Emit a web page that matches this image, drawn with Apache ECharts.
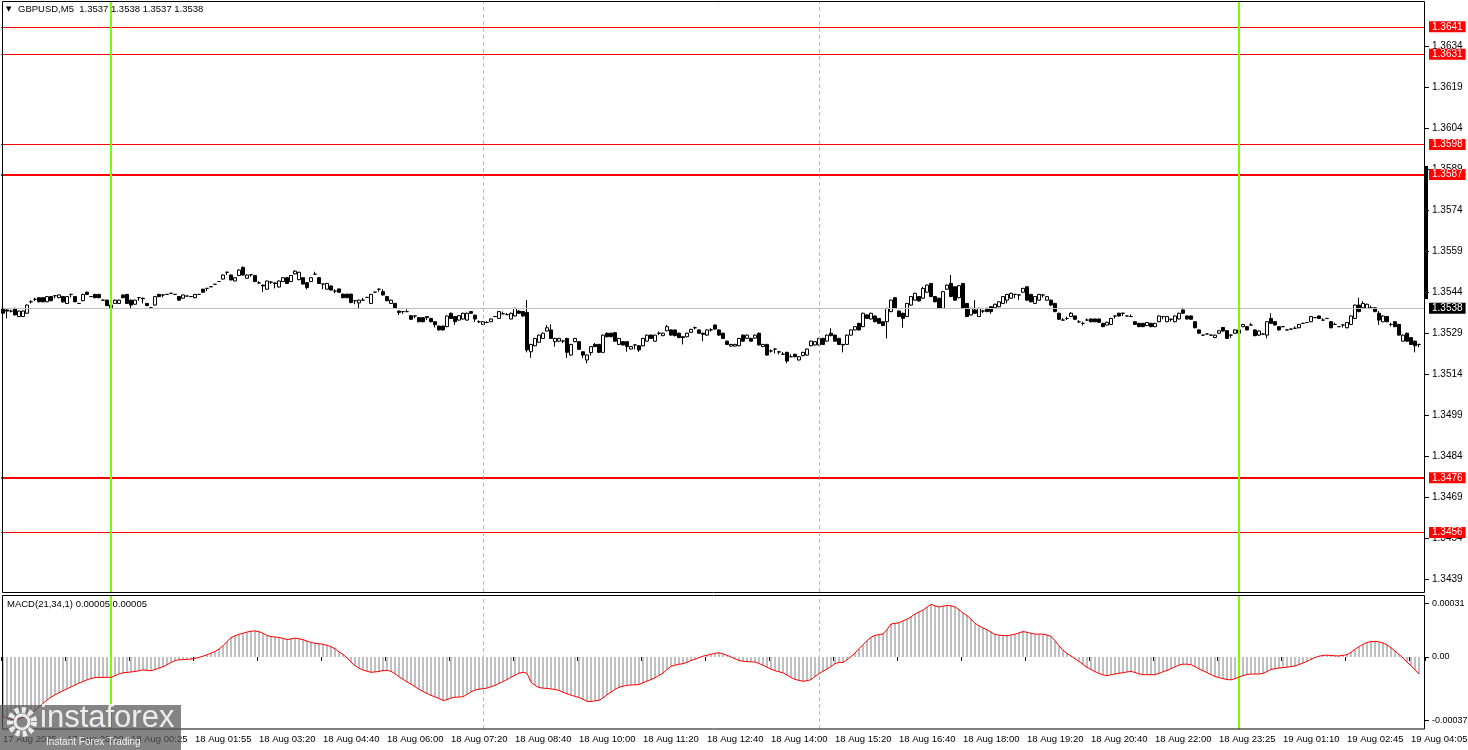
<!DOCTYPE html>
<html>
<head>
<meta charset="utf-8">
<title>GBPUSD,M5</title>
<script src="https://cdn.jsdelivr.net/npm/echarts@6/dist/echarts.min.js"></script>
<style>
  html, body { margin: 0; padding: 0; background: #fff; }
  #chart { width: 1468px; height: 750px; }
</style>
</head>
<body>
<div id="chart"></div>
<script>
const BASE = 1.35;

// 5-minute bars, [open, close, low, high] in pips above 1.3500
const bars = [
  [38.0,36.2,36.0,38.2],[37.4,37.0,34.3,37.6],[37.0,37.0,36.5,37.5],[38.0,35.6,35.4,38.2],[35.0,37.0,34.8,37.2],
  [35.0,37.0,34.8,37.2],[36.2,39.2,36.0,39.4],[40.4,40.4,39.8,41.0],[41.3,41.3,40.6,41.9],[41.9,40.4,40.2,42.1],
  [41.9,40.4,40.2,42.1],[40.4,42.3,40.2,42.5],[42.3,40.8,40.6,42.5],[42.6,42.6,41.6,42.8],[41.9,42.9,41.7,43.1],
  [42.3,40.4,40.0,42.5],[39.8,42.3,39.6,42.5],[43.1,43.1,42.0,43.3],[42.3,40.4,40.2,42.5],[39.8,39.8,39.7,39.9],
  [40.8,43.1,40.6,43.3],[43.9,43.1,42.9,44.1],[42.3,42.3,42.2,42.4],[43.1,41.9,41.7,43.3],[43.1,41.9,41.7,43.3],
  [41.0,41.0,40.9,41.1],[41.0,39.0,38.8,41.2],[38.0,39.2,36.8,39.4],[39.8,41.0,39.6,41.2],[39.8,41.0,39.6,41.2],
  [42.9,41.9,41.7,43.1],[43.1,39.8,39.6,43.3],[41.0,39.2,38.0,41.2],[39.5,41.0,39.3,41.2],[41.9,41.9,40.8,42.1],
  [41.7,41.5,39.8,41.9],[39.8,39.0,38.8,40.0],[38.2,38.2,38.1,38.3],[39.2,42.3,39.0,42.5],[43.1,42.3,42.1,43.3],
  [42.9,42.9,42.0,43.1],[43.1,43.1,43.0,43.2],[43.5,43.5,43.4,43.6],[43.1,43.1,43.0,43.2],[42.3,41.0,40.8,42.5],
  [41.7,42.9,41.5,43.1],[42.5,42.5,42.4,42.6],[42.3,42.3,42.2,42.4],[41.9,43.1,41.7,43.3],[43.1,43.1,43.0,43.2],
  [45.0,43.9,43.7,45.2],[45.3,45.3,44.3,45.5],[45.9,45.9,45.8,46.0],[46.8,46.8,46.7,46.9],[47.8,47.8,47.7,47.9],
  [48.7,50.2,48.5,50.4],[51.2,51.2,50.2,51.4],[50.2,48.4,48.2,50.4],[48.0,49.2,47.9,49.3],[50.0,52.0,49.8,52.3],
  [53.0,50.2,50.0,53.3],[49.0,50.2,48.9,50.4],[50.3,50.3,49.6,50.5],[50.0,47.8,47.6,50.2],[47.3,47.3,47.2,47.9],
  [46.5,46.2,43.9,46.6],[45.0,48.0,44.8,48.1],[47.6,47.6,46.9,47.9],[47.3,47.1,45.3,47.6],[45.8,48.0,45.6,48.2],
  [47.8,49.2,47.6,49.4],[49.2,47.1,46.9,49.4],[47.8,50.0,47.6,50.2],[50.6,51.6,50.4,52.0],[48.5,51.2,48.3,51.4],
  [49.2,46.9,46.7,49.4],[47.4,45.6,44.9,47.6],[47.8,49.2,47.6,49.4],[50.5,50.5,50.4,51.4],[49.2,47.1,46.9,49.4],
  [46.9,46.9,45.0,47.1],[45.0,47.1,44.9,47.3],[46.2,44.7,44.5,46.4],[44.3,44.3,43.5,45.0],[45.1,43.9,43.7,45.2],
  [43.2,41.9,41.7,43.4],[43.2,41.9,41.7,43.3],[43.2,40.1,39.9,43.4],[40.8,40.8,39.5,41.0],[40.0,41.0,38.0,41.2],
  [41.0,41.0,40.9,41.8],[42.0,42.0,41.9,42.1],[39.8,43.1,39.6,43.3],[43.9,43.9,43.8,44.0],[45.0,45.0,44.1,45.2],
  [44.1,42.9,42.7,45.0],[42.3,40.8,40.6,42.5],[39.8,41.0,39.6,41.2],[39.8,38.0,37.8,40.0],[37.0,36.5,35.6,37.2],
  [36.8,36.8,36.0,37.0],[36.8,36.8,36.6,37.6],[35.3,34.0,33.8,35.5],[35.2,35.2,34.4,35.4],[34.6,33.1,32.9,34.8],
  [34.6,33.1,32.9,34.8],[34.6,35.0,33.7,35.2],[34.3,33.1,32.9,34.5],[33.1,32.0,31.0,33.3],[31.5,30.1,29.9,31.7],
  [31.5,30.1,29.9,31.7],[31.3,35.2,31.1,35.4],[36.2,34.3,34.1,36.4],[35.0,33.1,32.0,35.2],[33.7,35.3,33.5,35.5],
  [34.1,36.2,33.9,36.4],[33.7,36.2,33.5,36.4],[36.8,36.2,36.0,37.0],[35.5,34.1,33.0,35.7],[33.1,33.1,32.6,33.6],
  [32.1,33.1,32.0,33.3],[32.8,32.8,32.7,33.3],[33.1,34.1,33.0,34.3],[35.0,35.0,34.9,35.1],[34.3,36.8,34.1,37.0],
  [36.0,36.0,35.9,36.8],[35.7,35.7,35.6,36.3],[34.1,36.2,34.0,36.4],[35.2,38.0,35.0,38.2],[37.0,36.2,36.0,37.3],
  [36.8,35.2,35.0,37.0],[36.5,22.8,21.9,41.0],[22.1,24.8,19.9,25.0],[24.3,27.0,24.1,27.2],[25.6,28.2,25.4,28.4],
  [27.0,28.9,26.8,29.1],[29.7,30.9,29.5,31.9],[30.1,27.0,26.8,32.1],[25.8,27.0,24.0,27.2],[26.0,27.0,25.8,27.2],
  [26.0,26.0,25.3,26.5],[27.0,21.9,19.9,27.2],[20.9,24.8,20.7,25.0],[25.8,27.0,25.6,27.2],[25.8,23.0,22.8,26.0],
  [22.1,20.9,19.9,22.3],[19.1,20.9,17.9,21.1],[21.8,24.0,20.7,24.2],[24.8,24.0,23.8,25.3],[24.8,21.9,21.7,25.0],
  [21.9,28.2,21.7,28.4],[28.9,27.6,27.4,29.1],[28.9,27.6,27.4,29.1],[29.1,26.0,25.8,29.3],[24.8,27.0,24.6,27.2],
  [25.8,24.6,24.4,26.0],[25.8,24.0,22.1,26.0],[23.1,24.0,23.0,24.2],[24.6,24.6,23.0,24.7],[24.3,22.8,22.1,24.5],
  [24.3,27.0,24.1,27.2],[26.0,28.2,25.8,28.4],[28.2,27.0,26.8,28.4],[26.0,28.2,25.8,28.4],[28.9,28.9,28.2,29.5],
  [28.0,28.9,27.8,29.1],[29.8,31.3,29.6,31.9],[30.1,28.2,28.0,30.3],[30.1,28.0,27.8,30.3],[28.9,27.3,27.1,29.1],
  [27.6,27.3,24.8,27.8],[27.6,28.9,27.4,29.1],[29.2,30.3,29.0,30.5],[30.9,30.9,30.3,31.3],[30.1,28.9,28.7,30.3],
  [28.9,28.5,26.0,29.1],[28.2,30.1,28.0,30.3],[30.1,30.1,29.5,30.7],[31.9,30.4,30.2,32.1],[30.1,28.2,28.0,30.3],
  [28.9,27.0,26.8,29.1],[26.0,24.8,24.6,26.2],[24.2,24.8,24.0,25.0],[24.2,24.8,24.0,25.0],[24.3,27.0,24.1,27.2],
  [28.2,26.0,25.8,28.5],[27.0,28.2,26.8,28.4],[27.0,26.0,25.8,27.2],[27.1,28.2,26.9,28.4],[28.9,24.6,24.4,29.1],
  [24.0,24.8,23.8,25.0],[24.8,20.9,20.7,25.0],[22.4,22.4,21.8,23.0],[23.1,23.1,21.5,23.3],[22.1,22.0,21.2,22.3],
  [21.2,21.2,21.0,22.0],[21.9,18.7,17.9,22.1],[20.3,20.3,20.1,21.2],[21.2,20.3,20.1,21.4],[19.1,20.3,18.9,20.5],
  [20.7,21.9,20.5,22.1],[20.9,23.1,20.7,23.3],[24.3,26.0,24.1,26.2],[24.6,25.8,24.4,26.0],[24.6,27.0,24.4,27.2],
  [27.0,24.8,24.6,27.2],[26.0,28.2,25.8,28.4],[28.9,28.0,27.8,30.7],[28.2,26.0,25.8,28.4],[27.0,24.8,24.6,27.2],
  [24.8,24.6,21.9,25.0],[24.8,28.2,24.6,28.4],[28.2,30.1,28.0,30.3],[30.1,31.3,29.9,31.5],[32.5,30.1,29.9,32.7],
  [31.3,36.2,31.1,36.4],[35.6,34.3,34.1,35.8],[34.1,36.2,33.9,36.4],[35.2,33.1,32.9,35.4],[34.3,32.5,32.3,34.5],
  [33.1,31.7,31.5,33.3],[33.1,38.0,27.0,38.2],[36.8,41.0,36.6,41.2],[41.9,38.0,37.8,42.1],[37.0,35.0,34.8,37.2],
  [36.2,34.3,30.9,36.4],[35.0,39.8,34.8,40.0],[39.2,42.3,39.0,42.5],[41.0,43.5,40.8,43.7],[42.3,40.7,40.5,42.5],
  [41.7,45.3,41.5,45.9],[43.9,46.5,43.7,46.7],[47.1,42.3,42.1,47.3],[42.3,40.4,40.2,42.5],[41.7,38.0,37.8,41.9],
  [38.0,44.1,37.8,44.3],[45.0,46.5,44.8,46.7],[47.1,42.3,42.1,50.2],[45.9,41.0,40.8,46.1],[41.9,46.3,41.7,46.5],
  [47.1,38.0,37.8,47.3],[39.8,35.0,34.8,40.0],[35.6,38.0,35.4,38.2],[37.4,36.2,36.0,41.0],[35.0,38.0,34.8,38.2],
  [37.0,37.0,36.3,37.5],[38.0,36.8,36.6,38.2],[38.6,36.8,36.0,38.8],[38.2,39.5,38.0,39.7],[38.6,40.4,38.4,40.6],
  [39.8,42.3,39.6,42.5],[41.0,43.1,39.8,43.3],[41.7,43.5,41.5,43.7],[43.1,43.1,41.7,43.3],[42.9,42.9,41.0,43.1],
  [43.9,45.3,43.7,45.5],[45.9,41.0,40.8,46.1],[43.1,40.4,40.2,43.3],[39.8,42.3,39.6,42.5],[41.0,43.1,40.8,43.3],
  [42.9,42.9,41.9,43.1],[41.0,42.3,40.8,42.5],[41.0,39.2,39.0,41.2],[39.8,36.8,36.6,40.0],[36.2,34.0,33.8,36.4],
  [33.7,33.7,33.5,34.4],[34.3,34.3,33.7,35.0],[35.0,36.2,34.8,36.6],[35.2,34.0,33.8,35.4],[33.1,33.1,32.6,33.7],
  [32.5,32.5,31.7,33.1],[33.7,33.7,33.5,34.3],[34.1,33.1,32.9,34.3],[34.1,33.1,32.9,34.3],[34.1,32.9,32.7,34.3],
  [32.5,31.3,31.1,32.7],[31.9,32.9,31.7,33.1],[32.1,34.3,31.9,34.5],[35.2,35.2,34.3,35.4],[36.2,35.2,35.0,36.4],
  [36.2,36.2,35.2,36.4],[35.2,35.2,35.1,35.3],[35.0,35.0,34.8,35.8],[33.1,32.1,31.9,33.3],[32.5,31.3,31.1,32.7],
  [32.5,31.3,31.1,32.7],[31.7,32.8,31.5,33.0],[32.5,31.3,31.1,32.7],[31.3,32.5,31.1,32.7],[33.1,35.2,32.9,35.4],
  [35.0,35.0,34.0,35.2],[33.1,35.0,32.9,35.2],[34.0,34.0,33.1,34.2],[33.1,35.2,32.9,35.4],[34.1,36.2,33.9,36.4],
  [37.4,36.2,36.0,38.2],[35.2,34.1,33.9,35.4],[35.2,34.0,33.8,35.4],[33.1,30.9,30.7,33.3],[30.1,28.9,28.7,30.3],
  [28.2,28.2,28.1,28.3],[28.6,28.6,28.5,28.7],[28.2,28.2,28.1,28.4],[27.3,28.2,27.1,28.4],[28.9,29.8,28.7,30.0],
  [31.0,29.7,29.5,31.2],[29.8,27.0,26.8,30.0],[28.2,28.2,27.2,28.4],[28.9,30.1,28.7,30.3],[28.9,30.1,28.7,30.3],
  [31.3,32.1,31.1,32.3],[31.3,30.1,29.9,31.5],[31.9,31.9,31.7,32.6],[30.1,28.0,27.8,30.3],[28.2,29.7,28.0,29.9],
  [28.6,28.6,28.5,28.8],[28.2,33.1,27.0,33.3],[34.3,32.5,32.3,36.2],[33.1,31.9,31.7,33.3],[31.3,30.1,29.9,31.5],
  [31.3,31.3,31.1,31.5],[30.1,30.1,30.0,30.3],[30.4,30.4,30.3,30.6],[30.7,30.7,30.5,31.4],[30.9,32.1,30.7,32.3],
  [32.5,32.5,32.4,32.7],[32.8,32.8,32.7,33.0],[33.1,35.0,32.9,35.2],[34.6,34.6,34.5,34.8],[35.2,34.3,34.1,35.4],
  [33.7,33.7,33.5,34.4],[34.3,34.3,34.2,34.5],[33.1,30.9,30.7,33.3],[32.1,32.1,31.9,32.8],[31.3,31.3,31.2,31.5],
  [31.9,31.9,31.0,32.1],[30.9,32.8,30.7,33.0],[32.1,35.2,31.9,35.4],[34.3,39.2,34.1,39.4],[39.2,36.8,36.6,41.9],
  [38.2,39.8,38.0,40.6],[38.0,39.5,37.8,39.7],[38.2,38.2,38.0,39.0],[38.2,36.8,36.6,38.4],[36.2,33.7,31.9,37.0],
  [33.1,35.2,32.9,35.4],[35.0,33.1,32.9,35.2],[32.1,32.1,31.4,32.8],[33.1,31.3,31.1,33.3],[32.1,28.2,28.0,32.3],
  [26.0,28.2,25.8,28.4],[28.9,26.0,25.8,29.1],[27.3,24.8,24.6,27.5],[26.0,24.3,21.9,26.2],[24.8,24.8,23.8,25.0]
];

// MACD(21,34,1) per bar, in units of 0.00001 (signal = main, period 1)
const macd = [
  -34.6,-35.5,-36.3,-36.5,-36.0,-35.2,-34.0,-32.7,-31.2,-29.0,-27.0,-25.0,-23.4,-22.0,-20.8,-19.6,-18.5,-17.4,-16.3,-15.2,
  -14.3,-13.3,-12.5,-12.0,-11.8,-11.9,-11.8,-11.8,-10.9,-9.8,-9.2,-9.0,-8.7,-8.4,-8.0,-7.5,-7.8,-8.0,-7.3,-6.5,
  -5.7,-4.5,-3.2,-2.1,-1.6,-1.5,-1.4,-1.2,-0.8,-0.3,0.5,1.3,2.2,3.2,4.6,6.5,9.0,11.2,12.4,13.2,
  13.8,14.5,15.0,15.2,14.7,13.8,12.5,11.9,11.6,11.4,10.8,10.2,10.5,11.0,10.6,10.1,9.3,8.4,8.0,7.7,
  7.4,6.8,6.0,4.8,3.0,1.5,-0.5,-3.0,-5.0,-6.5,-7.6,-8.3,-8.9,-8.7,-8.4,-7.8,-7.8,-8.3,-9.8,-11.5,
  -13.0,-14.5,-15.8,-17.3,-18.8,-20.0,-21.2,-22.3,-23.2,-24.2,-25.3,-24.8,-23.9,-23.4,-23.3,-23.1,-21.8,-20.3,-19.2,-18.8,
  -18.4,-18.1,-17.3,-16.5,-15.4,-14.3,-13.1,-11.8,-10.6,-9.4,-8.9,-9.5,-14.6,-16.5,-17.8,-18.1,-18.3,-18.6,-18.9,-19.5,
  -20.5,-21.4,-22.2,-22.9,-23.5,-24.6,-25.8,-25.9,-25.5,-25.2,-23.8,-22.0,-20.5,-18.9,-17.6,-17.0,-16.5,-16.3,-16.2,-16.0,
  -15.0,-14.0,-13.1,-12.1,-10.7,-9.4,-7.3,-5.4,-4.8,-4.2,-3.9,-3.1,-2.0,-1.3,-0.4,0.5,1.0,1.6,2.1,2.5,
  1.8,1.0,0.0,-1.0,-2.0,-2.5,-2.7,-2.8,-2.9,-3.8,-4.8,-5.9,-7.1,-8.0,-8.6,-9.2,-10.5,-12.0,-13.0,-13.6,
  -14.1,-13.8,-13.2,-11.3,-9.7,-8.3,-7.0,-5.5,-3.8,-3.2,-3.2,-1.6,0.2,2.3,4.8,7.2,9.5,11.5,12.6,13.0,
  13.4,16.0,19.2,19.6,19.9,21.0,22.0,23.3,25.0,26.2,27.3,29.0,30.6,29.8,29.1,29.6,30.0,29.8,29.2,27.5,
  25.6,24.1,22.0,19.6,18.2,16.9,15.8,14.5,13.1,12.7,12.5,12.4,12.8,13.3,14.0,14.8,14.4,13.8,13.3,13.3,
  13.3,12.8,12.0,9.5,6.5,4.0,2.0,0.6,-1.0,-2.6,-4.3,-6.0,-7.3,-8.5,-9.6,-10.4,-10.8,-10.4,-9.9,-9.5,
  -9.1,-8.7,-8.4,-9.0,-9.8,-10.3,-10.3,-10.3,-10.3,-9.5,-8.6,-7.8,-6.8,-5.7,-4.7,-4.2,-4.2,-4.5,-5.6,-7.0,
  -8.0,-9.1,-10.3,-11.3,-12.0,-12.6,-13.1,-13.3,-12.6,-11.7,-10.8,-10.2,-9.9,-9.9,-9.9,-9.5,-8.5,-7.2,-6.8,-6.4,
  -6.2,-5.9,-5.6,-5.2,-4.4,-3.5,-2.5,-1.4,-0.3,0.5,0.9,1.1,0.9,0.7,0.6,1.0,1.4,2.7,4.5,6.0,
  7.4,8.5,8.9,9.1,8.8,8.2,7.0,5.4,3.5,1.5,-0.6,-3.0,-5.1,-7.5,-9.9
];

// time labels, one every 16 bars
const tickLabels = [
  '17 Aug 2025', '17 Aug 23:00', '18 Aug 00:25', '18 Aug 01:55', '18 Aug 03:20', '18 Aug 04:40',
  '18 Aug 06:00', '18 Aug 07:20', '18 Aug 08:40', '18 Aug 10:00', '18 Aug 11:20', '18 Aug 12:40',
  '18 Aug 14:00', '18 Aug 15:20', '18 Aug 16:40', '18 Aug 18:00', '18 Aug 19:20', '18 Aug 20:40',
  '18 Aug 22:00', '18 Aug 23:25', '19 Aug 01:10', '19 Aug 02:45', '19 Aug 04:05'
];
const priceTicks = [1.3439, 1.3454, 1.3469, 1.3484, 1.3499, 1.3514, 1.3529, 1.3544,
  1.3559, 1.3574, 1.3589, 1.3604, 1.3619, 1.3634];
const macdTicks = [0.00031, 0, -0.00037];

const levels = [1.3641, 1.3631, 1.3598, 1.3587, 1.3476, 1.3456];
const boldLevels = [1.3587, 1.3476];
const lastPrice = 1.3538;
const dayStarts = [27, 309];      // bar index of 00:00
const sessionMarks = [120, 204];  // 08:00 and 15:00

// one empty slot after the last bar, like the terminal's right margin
const slotCount = bars.length + 1;
const categories = Array.from({ length: slotCount },
  (v, i) => i % 16 === 0 ? tickLabels[i / 16] : 'bar ' + i);
const candles = bars.map(b => b.map(p => +(BASE + p / 10000).toFixed(5)));
const closes = candles.map(c => c[1]);
const hist = macd.map(v => v / 100000);

const FONT = '"Liberation Sans", Arial, sans-serif';
const LIME = '#7cfc00';

function vLines() {
  const out = [];
  dayStarts.forEach(i => out.push({
    xAxis: i, lineStyle: { color: LIME, width: 2, type: 'solid' }, label: { show: false }
  }));
  sessionMarks.forEach(i => out.push({
    xAxis: i, lineStyle: { color: LIME, width: 1, type: [4, 3] }, label: { show: false }
  }));
  return out;
}

function priceLabel(text, bg) {
  return {
    show: true, position: 'end', distance: 4, formatter: text,
    backgroundColor: bg, color: '#fff', padding: [1, 3, 0, 3],
    fontSize: 10, fontFamily: FONT
  };
}

function levelLines() {
  const out = levels.map(v => ({
    yAxis: v,
    lineStyle: { color: '#ff0000', width: boldLevels.includes(v) ? 2 : 1, type: 'solid' },
    label: priceLabel(v.toFixed(4), '#ff0000')
  }));
  out.push({
    yAxis: lastPrice,
    lineStyle: { color: '#c0c0c0', width: 1, type: 'solid' },
    label: priceLabel(lastPrice.toFixed(4), '#000')
  });
  return out;
}

const myChart = echarts.init(document.getElementById('chart'));

const options = {
  animation: false,
  backgroundColor: '#fff',
  textStyle: { fontFamily: FONT },
  grid: [
    { left: 1, top: 2, width: 1424, height: 590, containLabel: false, outerBoundsMode: 'none' },
    { left: 1, top: 596, width: 1424, height: 133, containLabel: false, outerBoundsMode: 'none' }
  ],
  xAxis: [
    {
      type: 'category', gridIndex: 0, data: categories, boundaryGap: true,
      axisLine: { show: false }, axisTick: { show: false }, axisLabel: { show: false },
      splitLine: { show: false }
    },
    {
      type: 'category', gridIndex: 1, data: categories, boundaryGap: true,
      axisLine: { show: false },
      axisTick: { show: true, interval: 15, length: 4, lineStyle: { color: '#000' } },
      axisLabel: {
        interval: 15, align: 'left', margin: 5, fontSize: 9.5, color: '#000', fontFamily: FONT
      },
      splitLine: { show: false }
    }
  ],
  yAxis: [
    {
      type: 'value', gridIndex: 0, position: 'right', min: 1.34342, max: 1.36501,
      axisLine: { show: false },
      axisTick: { show: true, length: 4, customValues: priceTicks, lineStyle: { color: '#000' } },
      axisLabel: {
        customValues: priceTicks, margin: 7, fontSize: 10, color: '#000', fontFamily: FONT,
        formatter: v => v.toFixed(4)
      },
      splitLine: { show: false }
    },
    {
      type: 'value', gridIndex: 1, position: 'right', min: -0.000419, max: 0.000355,
      axisLine: { show: false },
      axisTick: { show: true, length: 4, customValues: macdTicks, lineStyle: { color: '#000' } },
      axisLabel: {
        customValues: macdTicks, margin: 7, fontSize: 9, color: '#000', fontFamily: FONT,
        formatter: v => v === 0 ? '0.00' : v.toFixed(5)
      },
      splitLine: { show: false }
    }
  ],
  series: [
    {
      // carrier for the horizontal levels and time markers of the price pane
      name: 'levels', type: 'line', xAxisIndex: 0, yAxisIndex: 0, z: 1,
      data: closes, showSymbol: false, silent: true,
      lineStyle: { opacity: 0 },
      markLine: {
        silent: true, symbol: ['none', 'none'], animation: false, precision: 5,
        data: levelLines().concat(vLines())
      }
    },
    {
      name: 'GBPUSD', type: 'candlestick', xAxisIndex: 0, yAxisIndex: 0, z: 3,
      data: candles, barWidth: 3,
      itemStyle: {
        color: '#fff', color0: '#000', borderColor: '#000', borderColor0: '#000',
        borderColorDoji: '#000', borderWidth: 1
      }
    },
    {
      name: 'MACD', type: 'bar', xAxisIndex: 1, yAxisIndex: 1,
      data: hist, barWidth: 2, itemStyle: { color: '#c0c0c0' }
    },
    {
      name: 'Signal', type: 'line', xAxisIndex: 1, yAxisIndex: 1,
      data: hist, showSymbol: false, z: 5,
      lineStyle: { color: '#ff0000', width: 1 },
      markLine: {
        silent: true, symbol: ['none', 'none'], animation: false, precision: 5, data: vLines()
      }
    }
  ],
  graphic: {
    elements: [
      { type: 'rect', z: 50, shape: { x: 2.5, y: 1.5, width: 1422, height: 591 },
        style: { fill: 'none', stroke: '#000', lineWidth: 1 } },
      { type: 'rect', z: 50, shape: { x: 2.5, y: 595.5, width: 1422, height: 133.5 },
        style: { fill: 'none', stroke: '#000', lineWidth: 1 } },
      { id: 'axisBar', type: 'rect', z: 50, shape: { x: 1425, y: 0, width: 3, height: 0 },
        style: { fill: '#000' } },
      { type: 'text', z: 60, left: 6, top: 6,
        style: { text: '\u25BC', fontSize: 7, fill: '#000', fontFamily: 'DejaVu Sans' } },
      { type: 'text', z: 60, left: 18, top: 4,
        style: { text: 'GBPUSD,M5  1.3537 1.3538 1.3537 1.3538', fontSize: 9.5, fill: '#000', fontFamily: FONT } },
      { type: 'text', z: 60, left: 7, top: 599,
        style: { text: 'MACD(21,34,1) 0.00005 0.00005', fontSize: 9.5, fill: '#000', fontFamily: FONT } },
      // watermark
      { type: 'rect', z: 70, shape: { x: 0, y: 705, width: 181, height: 45 },
        style: { fill: 'rgba(85,85,85,0.72)' } },
      { type: 'circle', z: 71, shape: { cx: 22, cy: 722, r: 12 },
        style: { fill: 'none', stroke: 'rgba(255,255,255,0.85)', lineWidth: 6, lineDash: [4, 3] } },
      { type: 'circle', z: 71, shape: { cx: 22, cy: 722, r: 7 },
        style: { fill: 'none', stroke: 'rgba(255,255,255,0.85)', lineWidth: 3 } },
      { type: 'text', z: 71, left: 40, top: 703,
        style: { text: 'instaforex', fontSize: 31, fill: 'rgba(255,255,255,0.85)', fontFamily: FONT } },
      { type: 'text', z: 71, left: 46, top: 737,
        style: { text: 'Instant Forex Trading', fontSize: 10, fill: 'rgba(255,255,255,0.9)', fontFamily: FONT } }
    ]
  }
};

myChart.setOption(options);

// thin black bar on the price scale
const barTop = myChart.convertToPixel({ yAxisIndex: 0 }, 1.35901);
const barBottom = myChart.convertToPixel({ yAxisIndex: 0 }, 1.35414);
myChart.setOption({
  graphic: { elements: [{ id: 'axisBar', shape: { y: barTop, height: barBottom - barTop } }] }
});

window.addEventListener('resize', () => {
  myChart.resize();
});
</script>
</body>
</html>
